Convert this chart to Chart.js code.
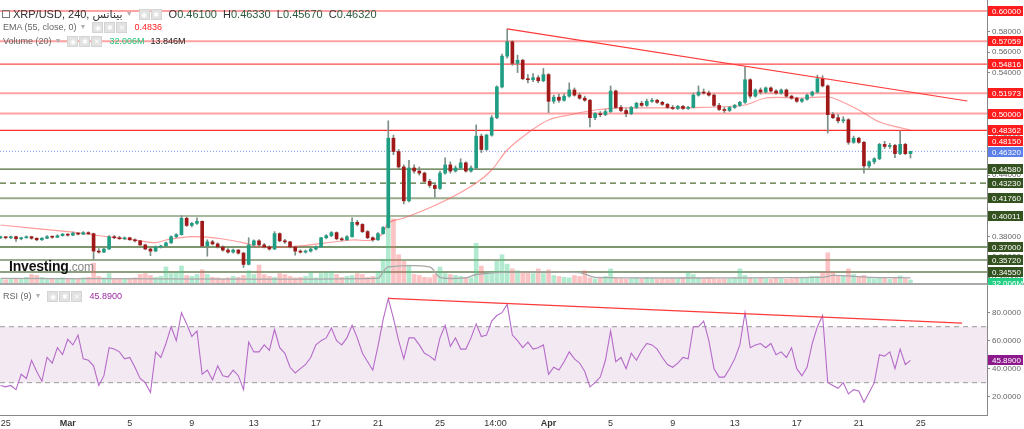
<!DOCTYPE html>
<html><head><meta charset="utf-8">
<script src="https://cdn.jsdelivr.net/npm/chart.js@4.4.1/dist/chart.umd.min.js"></script>
<style>
html,body{margin:0;padding:0;background:#fff;}
body{width:1024px;height:429px;position:relative;overflow:hidden;font-family:'Liberation Sans',Arial,'DejaVu Sans',sans-serif;}
#w1{position:absolute;left:0;top:0;width:1024px;height:285px;}
#w2{position:absolute;left:0;top:285px;width:1024px;height:144px;}
.lg{position:absolute;white-space:nowrap;color:#666;font-size:9px;line-height:12px;height:12px;display:flex;align-items:center;}
.lg1{font-size:11px;color:#333;}
.sq{display:inline-block;width:6px;height:6px;border:1px solid #777;margin-right:3px;}
.arr{color:#b0b0b0;font-size:7px;margin:0 6px 0 3px;}
.ic{display:inline-block;width:9px;height:9px;background:#e2e2e2;border:1px solid #d4d4d4;margin-right:1px;color:#fff;font-size:7px;line-height:9px;text-align:center;}
.gap{display:inline-block;width:6px;}
.n{color:#2d5a3d;}
#logo{position:absolute;left:9px;top:258px;font-weight:bold;font-size:14px;color:#111;letter-spacing:-0.2px;}
#logo span{font-weight:normal;color:#888;font-size:12px;}
</style></head>
<body>
<div id="w1"><canvas id="c1"></canvas></div>
<div id="w2"><canvas id="c2"></canvas></div>

<div class="lg lg1" style="left:2px;top:8px;"><span class="sq"></span><span>XRP/USD, 240, بينانس</span><span class="arr">▼</span><span class="ic">◉</span><span class="ic">✱</span><span class="gap"></span><span id="ohlc"></span></div>
<div class="lg" style="left:3px;top:21px;"><span>EMA (55, close, 0)</span><span class="arr">▼</span><span class="ic">◉</span><span class="ic">✱</span><span class="ic">✕</span><span class="gap"></span><span id="emaTxt" style="color:#ff2020"></span></div>
<div class="lg" style="left:3px;top:35px;"><span>Volume (20)</span><span class="arr">▼</span><span class="ic">◉</span><span class="ic">✱</span><span class="ic">✕</span><span class="gap"></span><span id="volTxt" style="color:#1fc97a"></span><span class="gap"></span><span id="volMaTxt" style="color:#222"></span></div>
<div class="lg" style="left:3px;top:290px;"><span>RSI (9)</span><span class="arr">▼</span><span class="ic">◉</span><span class="ic">✱</span><span class="ic">✕</span><span class="gap"></span><span id="rsiTxt" style="color:#9b2aa0"></span></div>
<div id="logo">Investing<span>.com</span></div>

<script>
// ---------- DATA (XRP/USD, 8h-sampled candles from Feb 24 16:00) ----------
const open = [
.3790,.3795,.3790,.3800,.3780,.3790,.3800,.3785,.3770,.3785,
.3800,.3795,.3810,.3825,.3815,.3835,.3825,.3840,.3830,.3660,
.3650,.3680,.3800,.3790,.3780,.3790,.3770,.3760,.3720,.3680,
.3660,.3700,.3710,.3740,.3800,.3820,.3980,.3910,.3930,.3950,
.3710,.3750,.3730,.3700,.3670,.3650,.3670,.3640,.3530,.3720,
.3760,.3720,.3700,.3680,.3830,.3760,.3750,.3700,.3660,.3650,
.3660,.3680,.3700,.3790,.3810,.3840,.3780,.3770,.3800,.3940,
.3920,.3850,.3790,.3770,.3830,.3890,.4760,.4630,.4480,.4150,
.4470,.4440,.4420,.4340,.4300,.4270,.4420,.4500,.4440,.4470,
.4520,.4440,.4470,.4780,.4650,.4790,.4960,.5260,.5560,.5700,
.5490,.5520,.5340,.5330,.5350,.5320,.5380,.5120,.5160,.5130,
.5170,.5230,.5180,.5150,.5130,.4960,.5000,.4990,.5020,.5220,
.5060,.5030,.5000,.5060,.5100,.5080,.5120,.5130,.5110,.5090,
.5060,.5050,.5070,.5050,.5060,.5180,.5210,.5200,.5180,.5080,
.5040,.5030,.5060,.5080,.5110,.5330,.5170,.5230,.5210,.5250,
.5220,.5200,.5230,.5170,.5150,.5120,.5140,.5180,.5210,.5340,
.5270,.4990,.4960,.4930,.4940,.4720,.4760,.4720,.4490,.4530,
.4560,.4700,.4680,.4690,.4610,.4700,.4610];
const high = [
.3805,.3800,.3805,.3805,.3795,.3808,.3805,.3790,.3792,.3810,
.3808,.3818,.3832,.3830,.3845,.3842,.3850,.3848,.3835,.3685,
.3690,.3810,.3812,.3805,.3798,.3795,.3780,.3765,.3728,.3690,
.3710,.3718,.3748,.3808,.3830,.4005,.3990,.3940,.3985,.3955,
.3770,.3765,.3740,.3712,.3685,.3680,.3675,.3648,.3790,.3770,
.3772,.3735,.3712,.3850,.3838,.3775,.3755,.3708,.3672,.3670,
.3690,.3710,.3795,.3820,.3850,.3848,.3792,.3810,.3985,.3960,
.3928,.3860,.3800,.3840,.3900,.4930,.4790,.4650,.4500,.4545,
.4500,.4480,.4430,.4360,.4320,.4440,.4570,.4530,.4490,.4560,
.4530,.4490,.4890,.4800,.4800,.4980,.5270,.5580,.5825,.5710,
.5570,.5530,.5380,.5390,.5370,.5440,.5390,.5180,.5190,.5190,
.5300,.5250,.5200,.5170,.5140,.5010,.5020,.5040,.5270,.5230,
.5080,.5050,.5070,.5110,.5120,.5140,.5150,.5140,.5120,.5100,
.5080,.5080,.5080,.5070,.5200,.5270,.5240,.5220,.5190,.5100,
.5060,.5070,.5090,.5120,.5455,.5340,.5240,.5250,.5260,.5260,
.5235,.5240,.5240,.5180,.5160,.5150,.5190,.5220,.5375,.5370,
.5280,.5010,.4990,.4970,.4950,.4780,.4770,.4730,.4540,.4570,
.4710,.4730,.4710,.4700,.4830,.4710,.4633];
const low = [
.3780,.3780,.3782,.3755,.3770,.3785,.3775,.3760,.3765,.3780,
.3785,.3790,.3805,.3805,.3810,.3818,.3820,.3820,.3580,.3640,
.3645,.3675,.3780,.3775,.3770,.3765,.3750,.3715,.3675,.3615,
.3655,.3690,.3700,.3735,.3790,.3815,.3900,.3895,.3920,.3700,
.3610,.3720,.3690,.3660,.3640,.3640,.3630,.3500,.3525,.3700,
.3710,.3690,.3670,.3675,.3750,.3735,.3690,.3620,.3640,.3640,
.3650,.3672,.3695,.3780,.3800,.3770,.3760,.3765,.3795,.3905,
.3840,.3780,.3755,.3765,.3825,.3885,.4600,.4460,.4120,.4140,
.4420,.4400,.4330,.4280,.4185,.4260,.4410,.4420,.4430,.4460,
.4430,.4430,.4465,.4620,.4640,.4780,.4950,.5250,.5540,.5470,
.5400,.5330,.5300,.5310,.5300,.5310,.5010,.5100,.5110,.5120,
.5160,.5170,.5140,.5120,.4870,.4940,.4970,.4980,.5010,.5050,
.5020,.4970,.4990,.5050,.5070,.5070,.5110,.5100,.5080,.5050,
.5040,.5040,.5040,.5040,.5055,.5170,.5190,.5170,.5070,.5030,
.5010,.5020,.5050,.5070,.5100,.5150,.5160,.5190,.5200,.5210,
.5190,.5190,.5160,.5140,.5110,.5110,.5130,.5170,.5200,.5260,
.4810,.4950,.4910,.4910,.4700,.4710,.4710,.4420,.4470,.4510,
.4550,.4660,.4660,.4570,.4600,.4600,.4567];
const close = [
.3795,.3790,.3800,.3780,.3790,.3800,.3785,.3770,.3785,.3800,
.3795,.3810,.3825,.3815,.3835,.3825,.3840,.3830,.3660,.3650,
.3680,.3800,.3790,.3780,.3790,.3770,.3760,.3720,.3680,.3660,
.3700,.3710,.3740,.3800,.3820,.3980,.3910,.3930,.3950,.3710,
.3750,.3730,.3700,.3670,.3650,.3670,.3640,.3530,.3720,.3760,
.3720,.3700,.3680,.3830,.3760,.3750,.3700,.3660,.3650,.3660,
.3680,.3700,.3790,.3810,.3840,.3780,.3770,.3800,.3940,.3920,
.3850,.3790,.3770,.3830,.3890,.4760,.4630,.4480,.4150,.4470,
.4440,.4420,.4340,.4300,.4270,.4420,.4500,.4440,.4470,.4520,
.4440,.4470,.4780,.4650,.4790,.4960,.5260,.5560,.5700,.5490,
.5520,.5340,.5330,.5350,.5320,.5380,.5120,.5160,.5130,.5170,
.5230,.5180,.5150,.5130,.4960,.5000,.4990,.5020,.5220,.5060,
.5030,.5000,.5060,.5100,.5080,.5120,.5130,.5110,.5090,.5060,
.5050,.5070,.5050,.5060,.5180,.5210,.5200,.5180,.5080,.5040,
.5030,.5060,.5080,.5110,.5330,.5170,.5230,.5210,.5250,.5220,
.5200,.5230,.5170,.5150,.5120,.5140,.5180,.5210,.5340,.5270,
.4990,.4960,.4930,.4940,.4720,.4760,.4720,.4490,.4530,.4560,
.4700,.4680,.4690,.4610,.4700,.4610,.4632];
const volume = [
40,35,45,50,40,60,90,80,60,50,
40,45,55,50,45,40,55,60,210,70,
55,100,45,40,40,50,55,90,100,80,
60,70,170,100,110,180,80,70,90,140,
90,60,55,45,55,70,60,80,130,90,
190,90,70,60,100,90,70,55,60,70,
110,55,100,110,120,90,60,70,80,100,
90,60,70,120,250,710,680,300,230,190,
90,80,60,55,90,170,100,90,80,70,
60,55,420,180,110,120,230,300,200,150,
130,120,110,100,150,100,140,80,70,60,
55,80,70,130,55,45,55,70,150,55,
45,40,45,55,45,55,45,40,45,40,
45,40,55,110,90,55,45,55,45,40,
40,45,55,150,80,55,45,55,45,40,
55,45,40,45,55,55,60,70,70,110,
320,110,70,80,150,90,70,80,55,45,
55,60,40,55,75,45,32.006];
const rsi = [
28,27,28,25,36,33,46,38,31,48,
44,55,50,61,57,64,47,46,42,28,
35,55,54,52,47,48,41,33,30,23,
52,48,58,70,60,80,72,63,67,36,
39,32,42,35,34,39,35,25,59,52,
52,57,53,68,55,51,41,37,40,43,
48,57,60,62,69,60,57,62,71,62,
51,45,39,56,75,90,76,60,47,62,
62,57,51,49,46,62,71,56,62,54,
54,62,72,63,64,74,78,80,86,64,
60,55,59,54,55,57,36,41,39,45,
52,47,44,38,27,30,34,46,67,45,
48,40,51,46,53,58,57,54,48,43,
41,44,48,47,70,70,74,60,40,34,
34,40,47,57,80,55,57,58,55,58,
50,52,48,55,40,35,41,58,70,78,
30,28,26,30,22,25,24,16,23,30,
50,49,52,40,54,43,45.89];
// EMA(55): [candle index, value]
const emaPoints = [[0,.3914],[13,.3849],[18,.3817],[26,.3768],[30,.3742],[32,.3768],[37,.3800],[43,.3778],[48,.3729],[50,.3700],[55,.3700],[58,.3710],[68,.3768],[72,.3768],[74,.3836],[75,.3934],[78,.3982],[82,.4060],[87,.4177],[92,.4324],[95,.4450],[98,.4645],[102,.4811],[106,.4938],[110,.4986],[115,.5035],[120,.5055],[132,.5055],[136,.5060],[144,.5084],[148,.5152],[155,.5152],[160,.5162],[162,.5133],[166,.5035],[170,.4918],[176,.4840]];
const volMaPoints = [[0,50],[73,50],[74,120],[75,170],[83,170],[85,60],[90,55],[92,90],[98,115],[112,110],[115,60],[159,60],[161,80],[168,60],[176,55]];
const emaLast = 0.4836, emaBoxValue = 0.4815, volMaLast = 13.846;
const redLevels = [0.60, 0.57059, 0.54816, 0.51973, 0.50, 0.48362];
const greenLevels = [0.4458, 0.4323, 0.4176, 0.40011, 0.37, 0.3572, 0.3455];
const priceTrend = [[98, 0.5825], [187, 0.5123]];
const rsiTrend = [[75, 90.3], [186, 72.6]];
const rsiBand = [30, 70];
const priceTicks = [0.34,0.36,0.38,0.40,0.42,0.44,0.46,0.48,0.50,0.52,0.54,0.56,0.58,0.60];
const rsiTicks = [20, 40, 60, 80];
const xTickIdx = [1,13,25,37,49,61,73,85,95.75,106,118,130,142,154,166,178];
const xTickLabels = ['25','Mar','5','9','13','17','21','25','14:00','Apr','5','9','13','17','21','25'];

// ---------- STYLES ----------
const X_MIN = -0.1, X_MAX = 190.8;
const FONT = "'Liberation Sans', Arial, sans-serif";
const redStyles = [
 {c:'rgba(255,70,70,0.5)', w:2},{c:'rgba(255,70,70,0.5)', w:2},{c:'#ff4a4a', w:1.2},
 {c:'rgba(255,70,70,0.5)', w:2},{c:'rgba(255,70,70,0.5)', w:2},{c:'#ff3030', w:1.2}];
const greenStyles = [
 {c:'#4f6d37', w:1.2},{c:'#4f6d37', w:1.2, d:[6,4]},{c:'#9aab8c', w:2},{c:'#a9b89f', w:2},
 {c:'#55753e', w:1.5},{c:'#9aaa8e', w:2},{c:'#8e9f82', w:2}];
const UP = '#1f9e84', DOWN = '#a11818', WICK = '#7b8f85';

const N = close.length;
const idx = close.map((_, i) => i);
const hline = (v) => [{x:X_MIN, y:v}, {x:X_MAX, y:v}];

document.getElementById('ohlc').innerHTML =
 'O<span class="n">' + open[N-1].toFixed(5) + '</span>&nbsp; H<span class="n">' + high[N-1].toFixed(5) +
 '</span>&nbsp; L<span class="n">' + low[N-1].toFixed(5) + '</span>&nbsp; C<span class="n">' + close[N-1].toFixed(5) + '</span>';
document.getElementById('emaTxt').textContent = emaLast.toFixed(4);
document.getElementById('volTxt').textContent = volume[N-1].toFixed(3) + 'M';
document.getElementById('volMaTxt').textContent = volMaLast.toFixed(3) + 'M';
document.getElementById('rsiTxt').textContent = rsi[N-1].toFixed(4);

function boxPlugin(getBoxes, sep) {
  return { id: 'boxes', afterDraw(chart) {
    const ctx = chart.ctx, ca = chart.chartArea;
    ctx.save();
    if (sep) { ctx.strokeStyle = '#8c8c8c'; ctx.lineWidth = 1.5; ctx.beginPath(); ctx.moveTo(0, ca.bottom + 1); ctx.lineTo(chart.width, ca.bottom + 1); ctx.stroke(); }
    const boxes = getBoxes().map(b => ({...b, y: chart.scales[b.axis].getPixelForValue(b.value)}));
    boxes.sort((a, b) => a.y - b.y);
    const H = 10; let prev = -1e9;
    ctx.font = '8px ' + FONT; ctx.textBaseline = 'middle'; ctx.textAlign = 'left';
    for (const b of boxes) {
      const y = Math.max(b.y, prev + H + 1); prev = y;
      ctx.fillStyle = b.bg; ctx.fillRect(ca.right + 1, Math.round(y - H/2), chart.width - ca.right - 2, H);
      ctx.fillStyle = '#fff'; ctx.fillText(b.text, ca.right + 5, Math.round(y) + 0.5);
    }
    ctx.restore();
  }};
}

const levelSets = [];
redLevels.forEach((v, k) => levelSets.push({type:'line', data:hline(v), borderColor:redStyles[k].c, borderWidth:redStyles[k].w, pointRadius:0, order:20}));
greenLevels.forEach((v, k) => levelSets.push({type:'line', data:hline(v), borderColor:greenStyles[k].c, borderWidth:greenStyles[k].w, borderDash:greenStyles[k].d || [], pointRadius:0, order:20}));

const yAxisCommon = {
  position:'right',
  grid:{drawOnChartArea:false, drawTicks:true, tickLength:3, color:'#888'},
  border:{display:true, color:'#888', width:1},
};

new Chart(document.getElementById('c1'), {
  type:'bar',
  data:{ datasets:[
    ...levelSets,
    {type:'line', data:hline(close[N-1]), borderColor:'#7d98ee', borderWidth:1, borderDash:[1,2], pointRadius:0, order:19},
    {type:'bar', yAxisID:'yv', data:idx.map(i => ({x:i, y:volume[i]})), backgroundColor:idx.map(i => close[i] >= open[i] ? 'rgba(70,205,140,0.42)' : 'rgba(245,105,105,0.40)'), barThickness:4, grouped:false, order:18},
    {type:'line', yAxisID:'yv', data:volMaPoints.map(p => ({x:p[0], y:p[1]})), borderColor:'#a8a8a8', borderWidth:1.3, pointRadius:0, tension:0.3, order:17},
    {type:'line', data:emaPoints.map(p => ({x:p[0], y:p[1]})), borderColor:'rgba(255,90,90,0.6)', borderWidth:1.2, pointRadius:0, tension:0.35, order:16},
    {type:'bar', data:idx.map(i => ({x:i, y:[low[i], high[i]]})), backgroundColor:WICK, barThickness:1, grouped:false, order:4},
    {type:'bar', data:idx.map(i => ({x:i, y:[open[i], close[i]]})), backgroundColor:idx.map(i => close[i] >= open[i] ? UP : DOWN), barThickness:3, minBarLength:1, grouped:false, order:3},
    {type:'line', data:priceTrend.map(p => ({x:p[0], y:p[1]})), borderColor:'#ff3a3a', borderWidth:1.2, pointRadius:0, order:2},
  ]},
  options:{
    responsive:true, maintainAspectRatio:false, animation:false, devicePixelRatio:1,
    layout:{padding:{left:0, right:0, top:0, bottom:2}},
    plugins:{legend:{display:false}, tooltip:{enabled:false}},
    scales:{
      x:{type:'linear', min:X_MIN, max:X_MAX, display:false, offset:false},
      y:{...yAxisCommon, min:0.33489, max:0.61072,
         afterBuildTicks:s => { s.ticks = priceTicks.map(v => ({value:v})); },
         afterFit:s => { s.width = 37; s.paddingTop = 0; s.paddingBottom = 0; },
         ticks:{font:{size:8, family:FONT}, color:'#666', padding:2, callback:v => Number(v).toFixed(5)}},
      yv:{display:false, min:0, max:3000}
    }
  },
  plugins:[boxPlugin(() => [
    ...redLevels.map(v => ({axis:'y', value:v, text:v.toFixed(5), bg:'#ff1c1c'})),
    {axis:'y', value:emaBoxValue, text:emaBoxValue.toFixed(5), bg:'#ff1c1c'},
    {axis:'y', value:close[N-1], text:close[N-1].toFixed(5), bg:'#5b80ea'},
    ...greenLevels.map(v => ({axis:'y', value:v, text:v.toFixed(5), bg:'#34521f'})),
    {axis:'yv', value:volume[N-1], text:volume[N-1].toFixed(3) + 'M', bg:'#22cf84'},
  ], true)]
});

new Chart(document.getElementById('c2'), {
  type:'line',
  data:{ datasets:[
    {data:hline(rsiBand[1]), borderColor:'#9a9a9a', borderWidth:1, borderDash:[5,4], pointRadius:0, fill:'+1', backgroundColor:'rgba(150,70,160,0.12)', order:10},
    {data:hline(rsiBand[0]), borderColor:'#9a9a9a', borderWidth:1, borderDash:[5,4], pointRadius:0, fill:false, order:9},
    {data:idx.map(i => ({x:i, y:rsi[i]})), borderColor:'#b66bc8', borderWidth:1.1, pointRadius:0, tension:0, order:2},
    {data:rsiTrend.map(p => ({x:p[0], y:p[1]})), borderColor:'#ff3a3a', borderWidth:1.2, pointRadius:0, order:1},
  ]},
  options:{
    responsive:true, maintainAspectRatio:false, animation:false, devicePixelRatio:1,
    layout:{padding:0},
    plugins:{legend:{display:false}, tooltip:{enabled:false}},
    scales:{
      x:{type:'linear', min:X_MIN, max:X_MAX, offset:false,
         grid:{drawOnChartArea:false, drawTicks:false},
         border:{display:true, color:'#888', width:1},
         afterBuildTicks:s => { s.ticks = xTickIdx.map(v => ({value:v})); },
         afterFit:s => { s.height = 14; s.paddingLeft = 0; s.paddingRight = 0; },
         ticks:{autoSkip:false, maxRotation:0, padding:3, color:'#333',
           font:c => ({size:9, family:FONT, weight:(xTickLabels[c.index] === 'Mar' || xTickLabels[c.index] === 'Apr') ? 'bold' : 'normal'}),
           callback:(v, k) => xTickLabels[k]}},
      y:{...yAxisCommon, min:6.9, max:99.8,
         afterBuildTicks:s => { s.ticks = rsiTicks.map(v => ({value:v})); },
         afterFit:s => { s.width = 37; s.paddingTop = 0; s.paddingBottom = 0; },
         ticks:{font:{size:8, family:FONT}, color:'#666', padding:2, callback:v => Number(v).toFixed(4)}}
    }
  },
  plugins:[boxPlugin(() => [{axis:'y', value:rsi[N-1], text:rsi[N-1].toFixed(4), bg:'#8c1a8c'}], false)]
});
</script>
</body></html>
